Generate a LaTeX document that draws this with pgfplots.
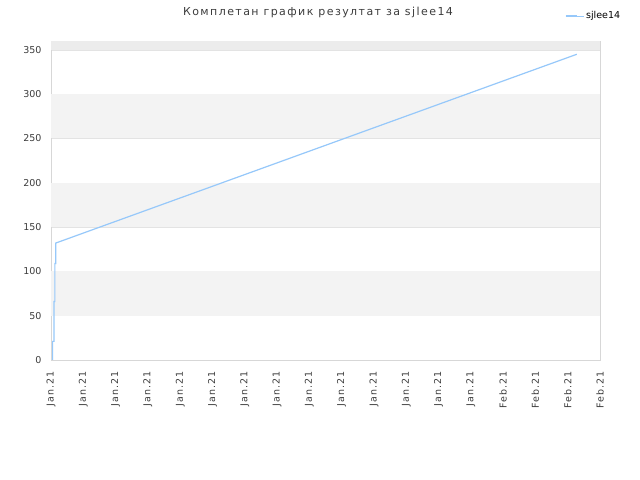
\documentclass[border=0pt]{standalone}
\usepackage{pgfplots}
\pgfplotsset{compat=1.18}
\usepackage{fontspec}
\setmainfont{DejaVu Sans}
\newfontfamily\tfont[LetterSpace=13]{DejaVu Sans}
\newfontfamily\xfont[LetterSpace=10]{DejaVu Sans}
\definecolor{linec}{RGB}{150,200,250}
\definecolor{band}{RGB}{243,243,243}
\definecolor{frame}{RGB}{215,215,215}
\definecolor{txt}{RGB}{60,60,60}
\begin{document}
\begin{tikzpicture}[x=1bp,y=1bp]
\useasboundingbox (0,0) rectangle (640,480);
\begin{axis}[
  at={(51bp,120bp)}, anchor=south west,
  scale only axis, width=549bp, height=319bp,
  xmin=0, xmax=17, ymin=0, ymax=360,
  axis background/.style={fill=white},
  xtick={0,...,17},
  xticklabels={Jan.21,Jan.21,Jan.21,Jan.21,Jan.21,Jan.21,Jan.21,Jan.21,Jan.21,Jan.21,Jan.21,Jan.21,Jan.21,Jan.21,Feb.21,Feb.21,Feb.21,Feb.21},
  ytick={0,50,...,350},
  major tick length=0pt,
  axis line style={draw=frame},
  ymajorgrids, major grid style={draw=frame!70, line width=0.5bp},
  y tick label style={font=\fontsize{9.5bp}{11bp}\selectfont, text=txt},
  x tick label style={font=\xfont\fontsize{9.5bp}{11bp}\selectfont, text=txt, rotate=90, anchor=east},
  xticklabel shift=8bp,
  yticklabel shift=6bp,
  /pgf/number format/assume math mode=true,
  legend style={draw=none, fill=none, at={(0.93,1.078)}, anchor=west,
    font=\fontsize{9.5bp}{11bp}\selectfont, text=black},
  legend image code/.code={\draw[#1, line width=1.5bp] (0bp,0bp) -- (11bp,0bp); \path (0bp,0bp) -- (18bp,0bp);},
  clip=true,
]
\fill[band] (axis cs:0,50) rectangle (axis cs:17,100);
\fill[band] (axis cs:0,150) rectangle (axis cs:17,200);
\fill[band] (axis cs:0,250) rectangle (axis cs:17,300);
\fill[band!97!black] (axis cs:0,350) rectangle (axis cs:17,360);
\addplot[linec, line width=1.2bp] coordinates {
 (0.05,0) (0.05,21) (0.09,21) (0.09,66) (0.12,66) (0.12,109) (0.15,109) (0.15,132) (16.28,345)
};
\addlegendentry{sjlee14}
\end{axis}
\node[font=\tfont\fontsize{11bp}{13bp}\selectfont, text=txt] at (318,468) {Комплетан график резултат за sjlee14};
\end{tikzpicture}
\end{document}
